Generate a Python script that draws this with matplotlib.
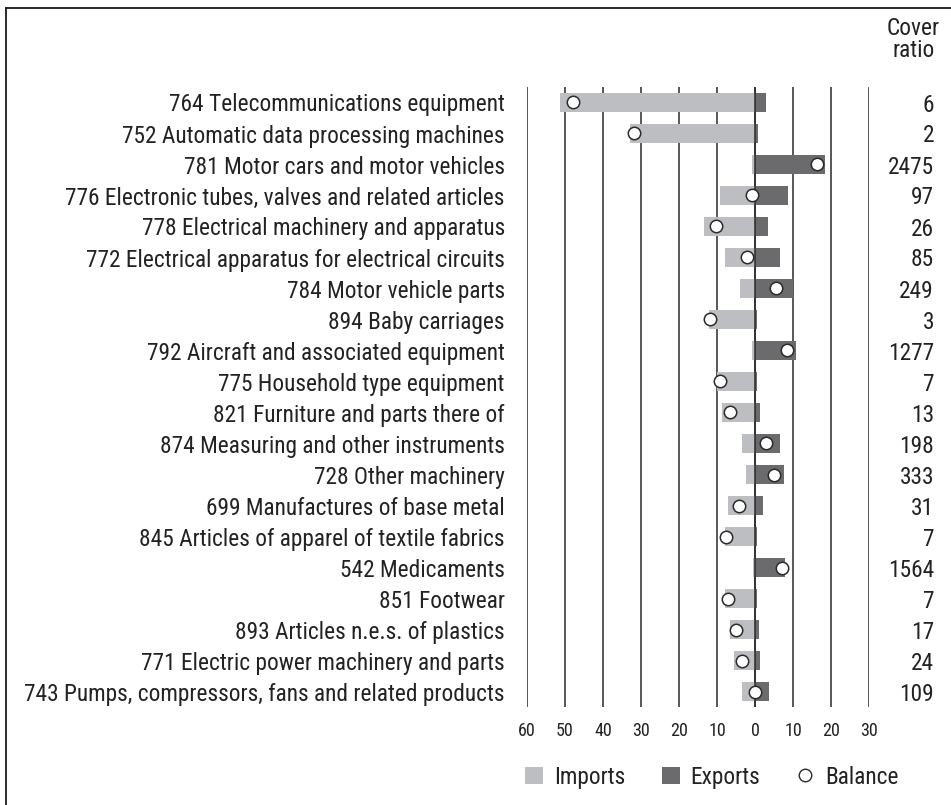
import matplotlib
matplotlib.use("Agg")
import matplotlib.pyplot as plt
from matplotlib import font_manager as fm
from matplotlib.patches import Patch
from matplotlib.lines import Line2D
from matplotlib.ticker import FuncFormatter, FixedLocator
import matplotlib.transforms as mtransforms

# ---- font choice: a condensed sans if one is installed ----
_fonts = fm.fontManager.ttflist
_names = {f.name for f in _fonts}
family = None
stretch = "normal"
for cand in ["Roboto Condensed", "Liberation Sans Narrow", "Open Sans Condensed",
             "DejaVu Sans Condensed", "Noto Sans Condensed"]:
    if cand in _names:
        family = cand
        break
if family is None:
    for base in ["Roboto", "Noto Sans", "Open Sans", "DejaVu Sans", "Inter"]:
        hits = [f for f in _fonts if f.name == base and str(f.stretch) in
                ("condensed", "semi-condensed", "extra-condensed", "75", "87.5", "62.5")]
        if hits:
            family = base
            stretch = hits[0].stretch
            break
if family is None:
    family = "Liberation Sans"
plt.rcParams['font.family'] = [family, 'DejaVu Sans']
plt.rcParams['font.stretch'] = stretch
NARROW = family != "Liberation Sans"

categories = [
    "764 Telecommunications equipment",
    "752 Automatic data processing machines",
    "781 Motor cars and motor vehicles",
    "776 Electronic tubes, valves and related articles",
    "778 Electrical machinery and apparatus",
    "772 Electrical apparatus for electrical circuits",
    "784 Motor vehicle parts",
    "894 Baby carriages",
    "792 Aircraft and associated equipment",
    "775 Household type equipment",
    "821 Furniture and parts there of",
    "874 Measuring and other instruments",
    "728 Other machinery",
    "699 Manufactures of base metal",
    "845 Articles of apparel of textile fabrics",
    "542 Medicaments",
    "851 Footwear",
    "893 Articles n.e.s. of plastics",
    "771 Electric power machinery and parts",
    "743 Pumps, compressors, fans and related products",
]
imports = [51.3, 33.0, 0.75, 9.1, 13.5, 8.0, 4.0, 12.2, 0.85, 10.0,
           8.8, 3.3, 2.25, 7.0, 8.0, 0.55, 7.8, 6.7, 5.6, 3.3]
exports = [2.9, 0.8, 18.5, 8.8, 3.3, 6.7, 10.1, 0.6, 10.7, 0.65,
           1.2, 6.7, 7.5, 2.1, 0.6, 8.0, 0.55, 1.15, 1.3, 3.6]
balance = [-47.8, -31.9, 16.2, -0.9, -10.2, -2.2, 5.5, -11.9, 8.3, -9.2,
           -6.6, 3.0, 4.9, -4.3, -7.6, 7.2, -7.2, -4.9, -3.3, 0.1]
cover_ratio = ["6", "2", "2475", "97", "26", "85", "249", "3", "1277", "7",
               "13", "198", "333", "31", "7", "1564", "7", "17", "24", "109"]
x_ticks = [-60, -50, -40, -30, -20, -10, 0, 10, 20, 30]

lab_fs = 16.8 if NARROW else 14
tick_fs = 13 if NARROW else 11.5

W, H = 951, 805
fig = plt.figure(figsize=(W / 100, H / 100), dpi=100)
ax = fig.add_axes([527 / W, (H - 707) / H, 342 / W, 620 / H])

c_imp = "#bdbec1"
c_exp = "#6b6b6e"
c_line = "#2a2a2a"
c_text = "#222222"

y = list(range(len(categories)))
neg_imports = [-v for v in imports]
ax.barh(y, neg_imports, height=0.6, color=c_imp, zorder=2)
ax.barh(y, exports, height=0.6, color=c_exp, zorder=2)
ax.axvline(0, color=c_line, lw=1.1, zorder=3)
ax.scatter(balance, y, s=80, facecolor="white", edgecolor=c_line,
           linewidth=1.1, zorder=4)

ax.set_xlim(-60, 30)
ax.set_ylim(len(categories) - 0.5, -0.5)
ax.xaxis.set_major_locator(FixedLocator(x_ticks))
ax.xaxis.set_major_formatter(FuncFormatter(lambda v, p: f"{abs(v):.0f}"))
ax.grid(axis="x", color=c_line, lw=1.1, zorder=0)
ax.set_axisbelow(True)
for s in ax.spines.values():
    s.set_visible(False)
ax.tick_params(axis="x", length=0, pad=11, labelsize=tick_fs, colors=c_text)
ax.set_yticks(y)
ax.set_yticklabels(categories)
ax.tick_params(axis="y", length=0, pad=16, labelsize=lab_fs, colors=c_text)

trans = mtransforms.blended_transform_factory(ax.transAxes, ax.transData)
for yi, cr in zip(y, cover_ratio):
    ax.text((934 - 527) / 342, yi, cr, transform=trans, ha="right",
            va="center_baseline", fontsize=lab_fs, color=c_text)

fig.text(913.5 / W, 1 - 39.5 / H, "Cover\nratio", ha="center", va="center",
         fontsize=lab_fs, color=c_text, linespacing=0.95)

# frame lines (top and left)
fig.add_artist(Line2D([6 / W, 6 / W], [0, 1 - 8 / H], transform=fig.transFigure,
                      color="#1a1a1a", lw=1.3))
fig.add_artist(Line2D([6 / W, 1], [1 - 8 / H, 1 - 8 / H], transform=fig.transFigure,
                      color="#1a1a1a", lw=1.3))

handles = [
    Patch(facecolor=c_imp, edgecolor="none", label="Imports"),
    Patch(facecolor=c_exp, edgecolor="none", label="Exports"),
    Line2D([], [], marker="o", linestyle="none", markerfacecolor="white",
           markeredgecolor=c_line, markersize=9, markeredgewidth=1.0, label="Balance"),
]
fig.legend(handles=handles, loc="center", bbox_to_anchor=(712 / W, 1 - 777 / H),
           ncol=3, frameon=False, fontsize=lab_fs, handlelength=0.77, handleheight=0.77,
           handletextpad=0.47, columnspacing=1.55, labelcolor=c_text)

fig.savefig("out.png", dpi=100)
